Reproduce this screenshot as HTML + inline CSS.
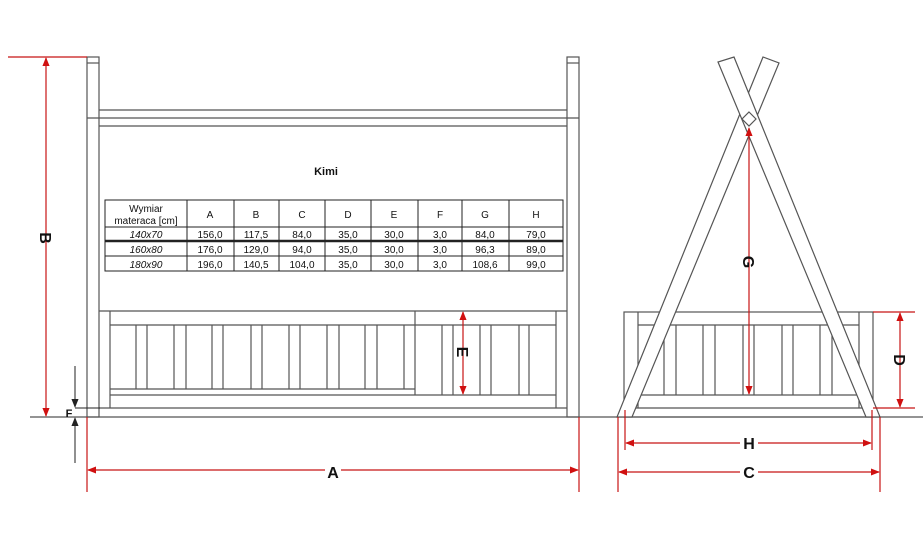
<!DOCTYPE html>
<html><head><meta charset="utf-8"><style>
html,body{margin:0;padding:0;background:#fff;}
svg{display:block;}
text{font-family:"Liberation Sans",Arial,sans-serif;}
</style></head><body>
<svg width="923" height="551" viewBox="0 0 923 551" xmlns="http://www.w3.org/2000/svg">
<defs>
<marker id="ar" viewBox="0 0 10 10" refX="9" refY="5" markerWidth="9" markerHeight="9" orient="auto-start-reverse" markerUnits="userSpaceOnUse"><path d="M0,1 L10,5 L0,9 z" fill="#d01010"/></marker>
<marker id="ab" viewBox="0 0 10 10" refX="9" refY="5" markerWidth="9" markerHeight="9" orient="auto-start-reverse" markerUnits="userSpaceOnUse"><path d="M0,1 L10,5 L0,9 z" fill="#222"/></marker>
</defs>
<g stroke="#555" stroke-width="1.2" fill="none">
<!-- left view -->
<rect x="87" y="57" width="12" height="360"/>
<line x1="87" y1="63" x2="99" y2="63"/>
<rect x="567" y="57" width="12" height="360"/>
<line x1="567" y1="63" x2="579" y2="63"/>
<line x1="99" y1="110" x2="567" y2="110"/>
<line x1="87" y1="118" x2="579" y2="118"/>
<line x1="99" y1="126" x2="567" y2="126"/>
<line x1="99" y1="311" x2="567" y2="311"/>
<line x1="110" y1="311" x2="110" y2="408"/>
<line x1="556" y1="311" x2="556" y2="408"/>
<line x1="110" y1="325" x2="556" y2="325"/>
<line x1="415" y1="311" x2="415" y2="395"/>
<line x1="110" y1="389" x2="415" y2="389"/>
<line x1="110" y1="395" x2="556" y2="395"/>
<line x1="99" y1="408" x2="567" y2="408"/>
<g>
<line x1="136" y1="325" x2="136" y2="389"/><line x1="147" y1="325" x2="147" y2="389"/>
<line x1="174" y1="325" x2="174" y2="389"/><line x1="186" y1="325" x2="186" y2="389"/>
<line x1="212" y1="325" x2="212" y2="389"/><line x1="223" y1="325" x2="223" y2="389"/>
<line x1="251" y1="325" x2="251" y2="389"/><line x1="262" y1="325" x2="262" y2="389"/>
<line x1="289" y1="325" x2="289" y2="389"/><line x1="300" y1="325" x2="300" y2="389"/>
<line x1="327" y1="325" x2="327" y2="389"/><line x1="339" y1="325" x2="339" y2="389"/>
<line x1="365" y1="325" x2="365" y2="389"/><line x1="377" y1="325" x2="377" y2="389"/>
<line x1="404" y1="325" x2="404" y2="389"/>
<line x1="442" y1="325" x2="442" y2="395"/><line x1="453" y1="325" x2="453" y2="395"/>
<line x1="480" y1="325" x2="480" y2="395"/><line x1="491" y1="325" x2="491" y2="395"/>
<line x1="519" y1="325" x2="519" y2="395"/><line x1="529" y1="325" x2="529" y2="395"/>
</g>
<line x1="30" y1="417" x2="923" y2="417"/>
<!-- right view -->
<rect x="624" y="312" width="249" height="105"/>
<line x1="638" y1="312" x2="638" y2="408"/>
<line x1="859" y1="312" x2="859" y2="408"/>
<line x1="638" y1="325" x2="859" y2="325"/>
<line x1="638" y1="395" x2="859" y2="395"/>
<line x1="624" y1="408" x2="873" y2="408"/>
<line x1="664" y1="325" x2="664" y2="395"/><line x1="676" y1="325" x2="676" y2="395"/>
<line x1="703" y1="325" x2="703" y2="395"/><line x1="715" y1="325" x2="715" y2="395"/>
<line x1="743" y1="325" x2="743" y2="395"/><line x1="754" y1="325" x2="754" y2="395"/>
<line x1="782" y1="325" x2="782" y2="395"/><line x1="793" y1="325" x2="793" y2="395"/>
<line x1="820" y1="325" x2="820" y2="395"/><line x1="832" y1="325" x2="832" y2="395"/>
<polygon points="617,417 632,417 779,63 763,57" fill="#fff"/>
<polygon points="866,417 880,417 734,57 718,62" fill="#fff"/>
<polygon points="749,112 756,119 749,126 742,119" fill="#fff"/>
</g>
<!-- table -->
<g stroke="#222" stroke-width="1" fill="none">
<rect x="105" y="200" width="458" height="71"/>
<line x1="105" y1="227" x2="563" y2="227"/>
<line x1="105" y1="241" x2="563" y2="241" stroke-width="2.5"/>
<line x1="105" y1="256" x2="563" y2="256"/>
<line x1="187" y1="200" x2="187" y2="271"/><line x1="234" y1="200" x2="234" y2="271"/>
<line x1="279" y1="200" x2="279" y2="271"/><line x1="325" y1="200" x2="325" y2="271"/>
<line x1="371" y1="200" x2="371" y2="271"/><line x1="418" y1="200" x2="418" y2="271"/>
<line x1="462" y1="200" x2="462" y2="271"/><line x1="509" y1="200" x2="509" y2="271"/>
</g>
<g font-size="10" fill="#111" text-anchor="middle">
<text x="326" y="175" font-size="11" font-weight="bold">Kimi</text>
<text x="146" y="212">Wymiar</text><text x="146" y="224">materaca [cm]</text>
<text x="210" y="218">A</text><text x="256" y="218">B</text><text x="302" y="218">C</text><text x="348" y="218">D</text><text x="394" y="218">E</text><text x="440" y="218">F</text><text x="485" y="218">G</text><text x="536" y="218">H</text>
<g font-style="italic"><text x="146" y="238">140x70</text><text x="146" y="253">160x80</text><text x="146" y="268">180x90</text></g>
<text x="210" y="238">156,0</text><text x="256" y="238">117,5</text><text x="302" y="238">84,0</text><text x="348" y="238">35,0</text><text x="394" y="238">30,0</text><text x="440" y="238">3,0</text><text x="485" y="238">84,0</text><text x="536" y="238">79,0</text>
<text x="210" y="253">176,0</text><text x="256" y="253">129,0</text><text x="302" y="253">94,0</text><text x="348" y="253">35,0</text><text x="394" y="253">30,0</text><text x="440" y="253">3,0</text><text x="485" y="253">96,3</text><text x="536" y="253">89,0</text>
<text x="210" y="268">196,0</text><text x="256" y="268">140,5</text><text x="302" y="268">104,0</text><text x="348" y="268">35,0</text><text x="394" y="268">30,0</text><text x="440" y="268">3,0</text><text x="485" y="268">108,6</text><text x="536" y="268">99,0</text>
</g>
<!-- dimensions -->
<g stroke="#c81414" stroke-width="1.2" fill="none">
<line x1="8" y1="57" x2="87" y2="57"/>
<line x1="46" y1="58" x2="46" y2="416" marker-start="url(#ar)" marker-end="url(#ar)"/>
<line x1="463" y1="312" x2="463" y2="394" marker-start="url(#ar)" marker-end="url(#ar)"/>
<line x1="87" y1="417" x2="87" y2="492"/><line x1="579" y1="417" x2="579" y2="492"/>
<line x1="88" y1="470" x2="578" y2="470" marker-start="url(#ar)" marker-end="url(#ar)"/>
<line x1="749" y1="128" x2="749" y2="394" marker-start="url(#ar)" marker-end="url(#ar)"/>
<line x1="873" y1="312" x2="915" y2="312"/><line x1="873" y1="408" x2="915" y2="408"/>
<line x1="900" y1="313" x2="900" y2="407" marker-start="url(#ar)" marker-end="url(#ar)"/>
<line x1="625" y1="410" x2="625" y2="450"/><line x1="872" y1="410" x2="872" y2="450"/>
<line x1="626" y1="443" x2="871" y2="443" marker-start="url(#ar)" marker-end="url(#ar)"/>
<line x1="618" y1="417" x2="618" y2="492"/><line x1="880" y1="417" x2="880" y2="492"/>
<line x1="619" y1="472" x2="879" y2="472" marker-start="url(#ar)" marker-end="url(#ar)"/>
</g>
<g stroke="#222" stroke-width="1" fill="none">
<line x1="75" y1="366" x2="75" y2="407" marker-end="url(#ab)"/>
<line x1="75" y1="463" x2="75" y2="418" marker-end="url(#ab)"/>
<line x1="75" y1="408" x2="100" y2="408"/>
</g>
<g font-size="16" font-weight="bold" fill="#111" text-anchor="middle">
<rect x="325" y="462" width="16" height="18" fill="#fff"/>
<text x="333" y="478">A</text>
<rect x="740" y="435" width="18" height="16" fill="#fff"/>
<text x="749" y="449">H</text>
<rect x="740" y="464" width="18" height="16" fill="#fff"/>
<text x="749" y="478">C</text>
<text transform="translate(40,238) rotate(90)" x="0" y="0">B</text>
<text transform="translate(457,352) rotate(90)">E</text>
<text transform="translate(743,262) rotate(90)">G</text>
<text transform="translate(894,360) rotate(90)">D</text>
<text x="69" y="417" font-size="11">F</text>
</g>
</svg>
</body></html>
